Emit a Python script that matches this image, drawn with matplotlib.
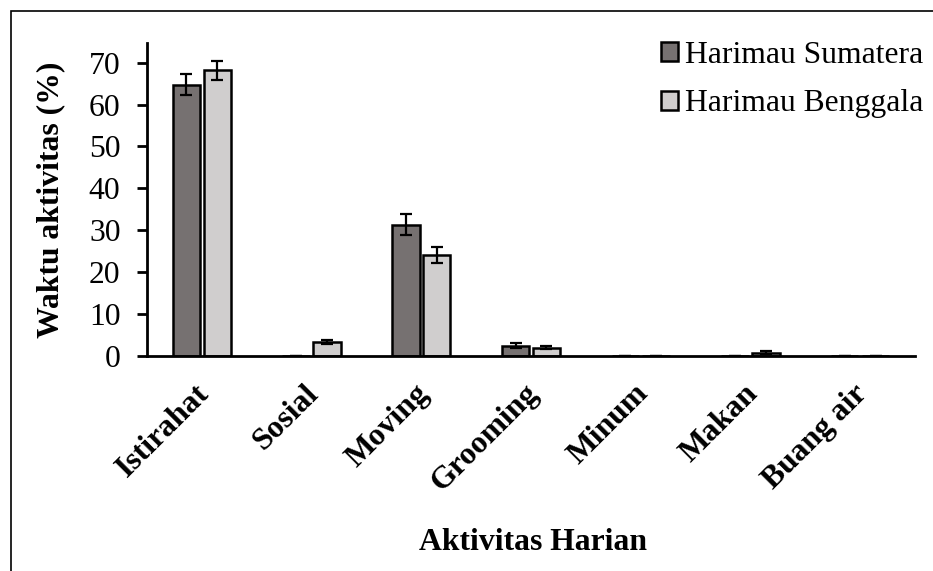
import matplotlib
matplotlib.use("Agg")
import matplotlib.pyplot as plt
import matplotlib.transforms as mtransforms
import numpy as np
from matplotlib.patches import Rectangle

categories = ["Istirahat", "Sosial", "Moving", "Grooming", "Minum", "Makan", "Buang air"]
series_names = ["Harimau Sumatera", "Harimau Benggala"]
sumatera = [64.7, 0.1, 31.3, 2.5, 0.1, 0.1, 0.1]
sumatera_err = [2.5, 0.0, 2.5, 0.5, 0.0, 0.0, 0.0]
benggala = [68.2, 3.3, 24.1, 2.0, 0.1, 0.8, 0.1]
benggala_err = [2.3, 0.5, 2.0, 0.4, 0.0, 0.4, 0.0]
yticks = [0, 10, 20, 30, 40, 50, 60, 70]

plt.rcParams['font.family'] = ['Liberation Serif', 'DejaVu Serif']
FS = 22.8

fig = plt.figure(figsize=(9.33, 5.71), dpi=100)
ax = fig.add_axes([147/933, 1-356/571, (915-147)/933, (356-43)/571])

x = np.arange(len(categories))
w = 0.25
off = 0.141
ekw = dict(elinewidth=1.6, capthick=1.6, ecolor='black')
ax.bar(x - off, sumatera, w, color='#767171', edgecolor='black', linewidth=1.8,
       yerr=sumatera_err, capsize=4.5, error_kw=ekw, label=series_names[0], zorder=2)
ax.bar(x + off, benggala, w, color='#D0CECE', edgecolor='black', linewidth=1.8,
       yerr=benggala_err, capsize=4.5, error_kw=ekw, label=series_names[1], zorder=2)

ax.set_xlim(-0.5, len(categories) - 0.5)
ax.set_ylim(0, 74.7)
ax.set_yticks(yticks)
ax.set_yticklabels([str(t) for t in yticks], fontsize=FS)
ax.set_xticks(x)
ax.set_xticklabels(categories, fontsize=FS, fontweight='bold', rotation=45,
                   ha='right', va='center', rotation_mode='anchor')
ax.tick_params(axis='x', length=0, pad=24)
ax.tick_params(axis='y', length=7, width=2, direction='out', pad=12)
shift = mtransforms.ScaledTranslation(3/100, 0, fig.dpi_scale_trans)
for lbl in ax.get_xticklabels():
    lbl.set_transform(lbl.get_transform() + shift)

for s in ['top', 'right']:
    ax.spines[s].set_visible(False)
for s in ['left', 'bottom']:
    ax.spines[s].set_linewidth(2)

ax.set_ylabel("Waktu aktivitas (%)", fontsize=FS, fontweight='bold')
ax.yaxis.set_label_coords((65-147)/768, 0.5)
fig.text(533/933, 1-543/571, "Aktivitas Harian", fontsize=FS, fontweight='bold',
         ha='center', va='center')

leg = ax.legend(loc='upper right', bbox_to_anchor=(1.027, 1.048), frameon=False,
                fontsize=FS, handlelength=0.55, handleheight=0.55,
                handletextpad=0.2, labelspacing=0.62, borderaxespad=0)

fig.patches.append(Rectangle((11/933, -0.1), 1.2, 1 - 11/571 + 0.1,
                             transform=fig.transFigure, fill=False,
                             edgecolor='black', linewidth=1.2))

fig.savefig("out.png", dpi=100)
